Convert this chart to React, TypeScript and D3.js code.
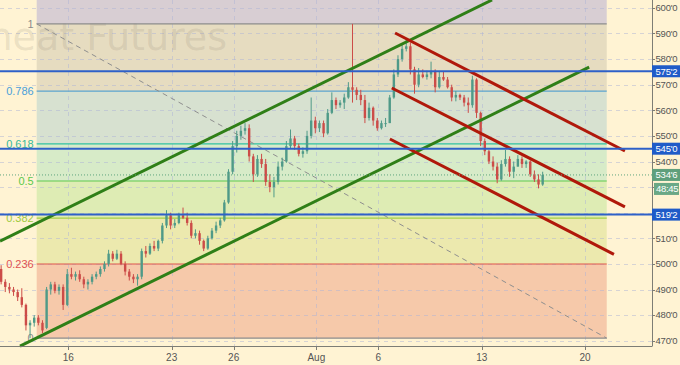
import React from 'react';
import * as d3 from 'd3';

const W = 680;
const H = 365;
const PLOT_RIGHT = 652;
const PLOT_BOTTOM = 346;

const priceTicks = [470, 480, 490, 500, 510, 520, 530, 540, 550, 560, 570, 580, 590, 600];
const dateTicksT = [0, 5, 8, 12, 15, 20, 25];
const dateTickLabels = ['16', '23', '26', 'Aug', '6', '13', '20'];

const fibLevels = [1, 0.786, 0.618, 0.5, 0.382, 0.236, 0];
const fibLabels = ['1', '0.786', '0.618', '0.5', '0.382', '0.236', '0'];
const fibLineColors = ['#8c8c8c', '#5aa3cf', '#2fc2a2', '#5fc94e', '#a3cf42', '#e0574a', '#8c8c8c'];
const fibLabelColors = ['#8c8c8c', '#4aa0da', '#36b99a', '#5cc94c', '#9dca3e', '#e05252', '#8c8c8c'];
// band colours: above level 1, then between consecutive levels
const fibBandColors = ['#d8ced3', '#e6dcc0', '#d7e1d0', '#d7ebc8', '#deecb4', '#ece9ae', '#f6c9aa'];
const fibHigh = 593.75;
const fibLow = 471;
const fibStartT = -1.53;
const fibEndT = 26.05;

const hLines = [575.25, 545, 519.25];
const lastPrice = 534.75;
const countdown = '48:45';

const greenLines: [number, number][][] = [
  [[-3.305, 508.9], [20.5, 603.1]],
  [[-2.337, 467.9], [25.2, 576.9]],
];
const redLines: [number, number][][] = [
  [[15.81, 590.2], [26.93, 544.1]],
  [[15.65, 568.7], [26.93, 522.3]],
  [[15.56, 548.8], [26.4, 503.75]],
];

const barStartT = -3.25;
const barStepT = 0.2;
const ohlc: [number, number, number, number][] = [
  [498, 499.5, 492, 493],
  [493, 494, 489, 491],
  [491, 492.5, 488.5, 490],
  [490, 491, 487.5, 489],
  [489, 490, 485.5, 487],
  [487, 490.5, 483, 484],
  [484, 484.5, 474, 476],
  [476, 478, 471, 477],
  [477, 480, 475.5, 479],
  [479, 480, 476, 477],
  [477, 478, 473, 474],
  [475, 491, 474.5, 490],
  [490, 493, 488, 492],
  [492, 493, 488.5, 489.5],
  [489.5, 492, 488, 491],
  [491, 492, 482, 484],
  [484, 498, 483.5, 496],
  [496, 498.5, 494, 495],
  [495, 497, 493.5, 496],
  [496, 497.5, 493, 494],
  [494, 495, 490.5, 492],
  [492, 494, 490, 493],
  [493, 496, 492, 495],
  [495, 497, 494, 496],
  [496, 499, 495, 498],
  [498, 501, 497, 500],
  [500, 505.5, 499, 504],
  [504, 505, 501, 502],
  [502, 505.5, 501.5, 504],
  [504, 505, 499.5, 500],
  [500, 501, 495.5, 497],
  [497, 498, 493.5, 495],
  [495, 496, 492.5, 494],
  [494, 496, 491.5, 495],
  [495, 506, 494, 505],
  [505, 507, 502.5, 504],
  [504, 508, 503.5, 507],
  [507, 509, 505, 506],
  [506, 509.5, 505, 509],
  [509, 516, 508, 515],
  [515, 521, 514, 519],
  [519, 520, 513.5, 515],
  [515, 517.5, 514, 516],
  [516, 520, 515.5, 519],
  [519, 522, 517.5, 518],
  [518, 520, 515, 516],
  [516, 517, 510, 511],
  [511, 513.5, 510, 512],
  [512, 513, 507.5, 509],
  [509, 509.5, 505, 506],
  [506, 511, 505.5, 510],
  [510, 514, 509.5, 513],
  [513, 516.5, 512, 515],
  [515, 518, 514, 517],
  [517, 525, 516.5, 524],
  [524, 537, 523.5, 536],
  [536, 548, 535, 546],
  [546, 552, 543.5, 550],
  [550, 554, 548.5, 552],
  [552, 555, 550.5, 553],
  [553, 554.5, 540, 542],
  [542, 543, 532, 535],
  [535, 542.5, 534, 541],
  [541, 543, 537.5, 539],
  [539, 541, 530.5, 532],
  [532, 535, 528, 530],
  [530, 534, 526, 532],
  [532, 540, 531, 538],
  [538, 541.5, 536.5, 540],
  [540, 548, 539.5, 546],
  [546, 552.5, 545, 549],
  [549, 550, 544.5, 546],
  [546, 547, 542, 543],
  [543, 545.5, 541.5, 544],
  [544, 552, 543, 550],
  [550, 565, 549, 556],
  [556, 557.5, 551, 553],
  [553, 556, 551.5, 555],
  [555, 556, 549.5, 551],
  [551, 560.5, 550.5, 559],
  [559, 567, 558.5, 564],
  [564, 565, 560.5, 562],
  [562, 564, 561, 563],
  [563, 566.5, 560.5, 565],
  [565, 571, 564.5, 569],
  [569, 593.75, 563, 568],
  [568, 569, 564, 566],
  [566, 568, 562, 564],
  [564, 566, 555, 557],
  [557, 563, 556, 561],
  [561, 561.5, 554, 556],
  [556, 557, 552, 553],
  [553, 556, 552.5, 555],
  [555, 557, 553.5, 555],
  [555, 566, 555, 565],
  [565, 576, 564.5, 574],
  [574, 581.5, 573, 580],
  [580, 586, 579, 584],
  [584, 587.5, 583, 585],
  [585, 586.5, 574, 576],
  [576, 577, 566.5, 570],
  [570, 576.5, 569, 574],
  [574, 576, 572.5, 573],
  [573, 575.5, 572, 574],
  [574, 579, 572.5, 575],
  [575, 576, 567, 569],
  [569, 575, 568.5, 573],
  [573, 575, 571.5, 572],
  [572, 573, 568.5, 569],
  [569, 570, 563.5, 565],
  [565, 567.5, 563.5, 566],
  [566, 566.5, 564, 565],
  [565, 566, 561.5, 563],
  [563, 565, 559, 562],
  [562, 573.5, 561, 572],
  [572, 572.5, 557, 559],
  [559, 559.5, 546, 548],
  [548, 549, 542.5, 544],
  [544, 544.5, 539, 540],
  [540, 542, 536.5, 538],
  [538, 539.5, 531.5, 533],
  [533, 540.5, 532.5, 539],
  [539, 544.5, 538, 541],
  [541, 542, 534, 536],
  [536, 540, 533.5, 538],
  [538, 542.5, 538, 541],
  [541, 542, 537.5, 539],
  [539, 540.5, 537.5, 540],
  [540, 540.5, 534, 535],
  [535, 536.5, 532, 533],
  [533, 535, 529.5, 531],
  [531, 536, 530.5, 534.75],
];

const fmtPrice = (p: number) => {
  const whole = Math.floor(p);
  return `${whole}'${Math.round((p - whole) * 8)}`;
};

export default function App() {
  const x = d3.scaleLinear().domain([-3.305, 28.24]).range([0, PLOT_RIGHT]);
  const y = d3.scaleLinear().domain([470, 600]).range([340.7, 7.9]);
  const fibPrice = (l: number) => fibLow + l * (fibHigh - fibLow);
  const fx0 = x(fibStartT);
  const fx1 = x(fibEndT);
  const line = d3.line<[number, number]>().x(d => x(d[0])).y(d => y(d[1]));

  const boxYs = [...hLines.map(v => y(v)), y(lastPrice), y(lastPrice) + 14];
  const font = 'Liberation Sans, Arial, sans-serif';
  const axisFs = 9.5;

  const bands: { y0: number; y1: number; c: string }[] = [];
  bands.push({ y0: 0, y1: y(fibPrice(1)), c: fibBandColors[0] });
  for (let i = 0; i < fibLevels.length - 1; i++) {
    bands.push({ y0: y(fibPrice(fibLevels[i])), y1: y(fibPrice(fibLevels[i + 1])), c: fibBandColors[i + 1] });
  }

  return (
    <svg width={W} height={H} style={{ position: 'absolute', left: 0, top: 0 }} fontFamily={font}>
      <rect x={0} y={0} width={W} height={H} fill="#fff3d3" />
      {bands.map((b, i) => (
        <rect key={'b' + i} x={fx0} y={b.y0} width={fx1 - fx0} height={b.y1 - b.y0} fill={b.c} />
      ))}
      <g stroke="#aeb4d6" strokeOpacity={0.5} strokeDasharray="4,4" strokeWidth={1}>
        {priceTicks.map(p => (
          <line key={'gh' + p} x1={0} x2={PLOT_RIGHT} y1={Math.round(y(p)) + 0.5} y2={Math.round(y(p)) + 0.5} />
        ))}
        {dateTicksT.map(t => (
          <line key={'gv' + t} x1={Math.round(x(t)) + 0.5} x2={Math.round(x(t)) + 0.5} y1={0} y2={PLOT_BOTTOM} />
        ))}
      </g>
      <text x={227} y={50} textAnchor="end" fontSize={38} fontFamily="DejaVu Sans, sans-serif" fill="#8a8070" fillOpacity={0.18}>
        Wheat Futures
      </text>
      {fibLevels.map((l, i) => (
        <g key={'f' + i}>
          <line x1={fx0} x2={fx1} y1={y(fibPrice(l))} y2={y(fibPrice(l))} stroke={fibLineColors[i]} strokeWidth={1.2} />
          <text x={fx0 - 3} y={y(fibPrice(l))} dy="0.35em" textAnchor="end" fontSize={11} fill={fibLabelColors[i]}>
            {fibLabels[i]}
          </text>
        </g>
      ))}
      <line x1={fx0} y1={y(fibHigh)} x2={fx1} y2={y(fibLow)} stroke="#8f8f8f" strokeWidth={1} strokeDasharray="5,4" />
      {ohlc.map((b, i) => {
        const [o, h, l, c] = b;
        const cx = x(barStartT + i * barStepT);
        const col = c >= o ? '#4f9a88' : '#cc4c48';
        const top = y(Math.max(o, c));
        const bh = Math.max(1, y(Math.min(o, c)) - top);
        return (
          <g key={'c' + i}>
            <line x1={cx} x2={cx} y1={y(h)} y2={y(l)} stroke={col} strokeWidth={1} />
            <rect x={cx - 1.2} y={top} width={2.4} height={bh} fill={col} />
          </g>
        );
      })}
      {greenLines.map((g, i) => (
        <path key={'g' + i} d={line(g) || ''} stroke="#2f7f17" strokeWidth={3} fill="none" />
      ))}
      {redLines.map((g, i) => (
        <path key={'r' + i} d={line(g) || ''} stroke="#b0180a" strokeWidth={3} fill="none" />
      ))}
      {hLines.map(v => (
        <line key={'h' + v} x1={0} x2={PLOT_RIGHT} y1={y(v)} y2={y(v)} stroke="#2e60c8" strokeWidth={2} />
      ))}
      <line x1={0} x2={PLOT_RIGHT} y1={y(lastPrice)} y2={y(lastPrice)} stroke="#5fa47e" strokeWidth={1} strokeDasharray="1,2" />
      <line x1={PLOT_RIGHT + 0.5} x2={PLOT_RIGHT + 0.5} y1={0} y2={PLOT_BOTTOM} stroke="#7d7d75" strokeWidth={1} />
      <line x1={0} x2={PLOT_RIGHT + 0.5} y1={PLOT_BOTTOM + 0.5} y2={PLOT_BOTTOM + 0.5} stroke="#7d7d75" strokeWidth={1} />
      {priceTicks.map(p => {
        const yy = y(p);
        const hidden = boxYs.some(by => Math.abs(by - yy) < 9);
        return (
          <g key={'pt' + p}>
            <line x1={PLOT_RIGHT} x2={PLOT_RIGHT + 3} y1={Math.round(yy) + 0.5} y2={Math.round(yy) + 0.5} stroke="#7d7d75" />
            {!hidden && (
              <text x={PLOT_RIGHT + 3.5} y={yy} dy="0.35em" fontSize={axisFs} letterSpacing={-0.2} fill="#555">
                {fmtPrice(p)}
              </text>
            )}
          </g>
        );
      })}
      {dateTicksT.map((t, i) => (
        <g key={'dt' + t}>
          <line x1={Math.round(x(t)) + 0.5} x2={Math.round(x(t)) + 0.5} y1={PLOT_BOTTOM} y2={PLOT_BOTTOM + 4} stroke="#7d7d75" />
          <text x={x(t)} y={361} textAnchor="middle" fontSize={10} fill="#555">
            {dateTickLabels[i]}
          </text>
        </g>
      ))}
      {hLines.map(v => (
        <g key={'hb' + v}>
          <rect x={PLOT_RIGHT} y={y(v) - 6} width={W - PLOT_RIGHT} height={12} fill="#1f5bc8" />
          <text x={PLOT_RIGHT + 3.5} y={y(v)} dy="0.35em" fontSize={axisFs} letterSpacing={-0.2} fill="#fff">
            {fmtPrice(v)}
          </text>
        </g>
      ))}
      <rect x={PLOT_RIGHT} y={y(lastPrice) - 6} width={W - PLOT_RIGHT} height={12} fill="#5f9f7c" />
      <text x={PLOT_RIGHT + 3.5} y={y(lastPrice)} dy="0.35em" fontSize={axisFs} letterSpacing={-0.2} fill="#fff">
        {fmtPrice(lastPrice)}
      </text>
      <rect x={PLOT_RIGHT + 2} y={y(lastPrice) + 8} width={W - PLOT_RIGHT - 3} height={12} fill="#6aa886" />
      <text x={PLOT_RIGHT + 4} y={y(lastPrice) + 14} dy="0.35em" fontSize={axisFs} letterSpacing={-0.3} fill="#fff">
        {countdown}
      </text>
    </svg>
  );
}
